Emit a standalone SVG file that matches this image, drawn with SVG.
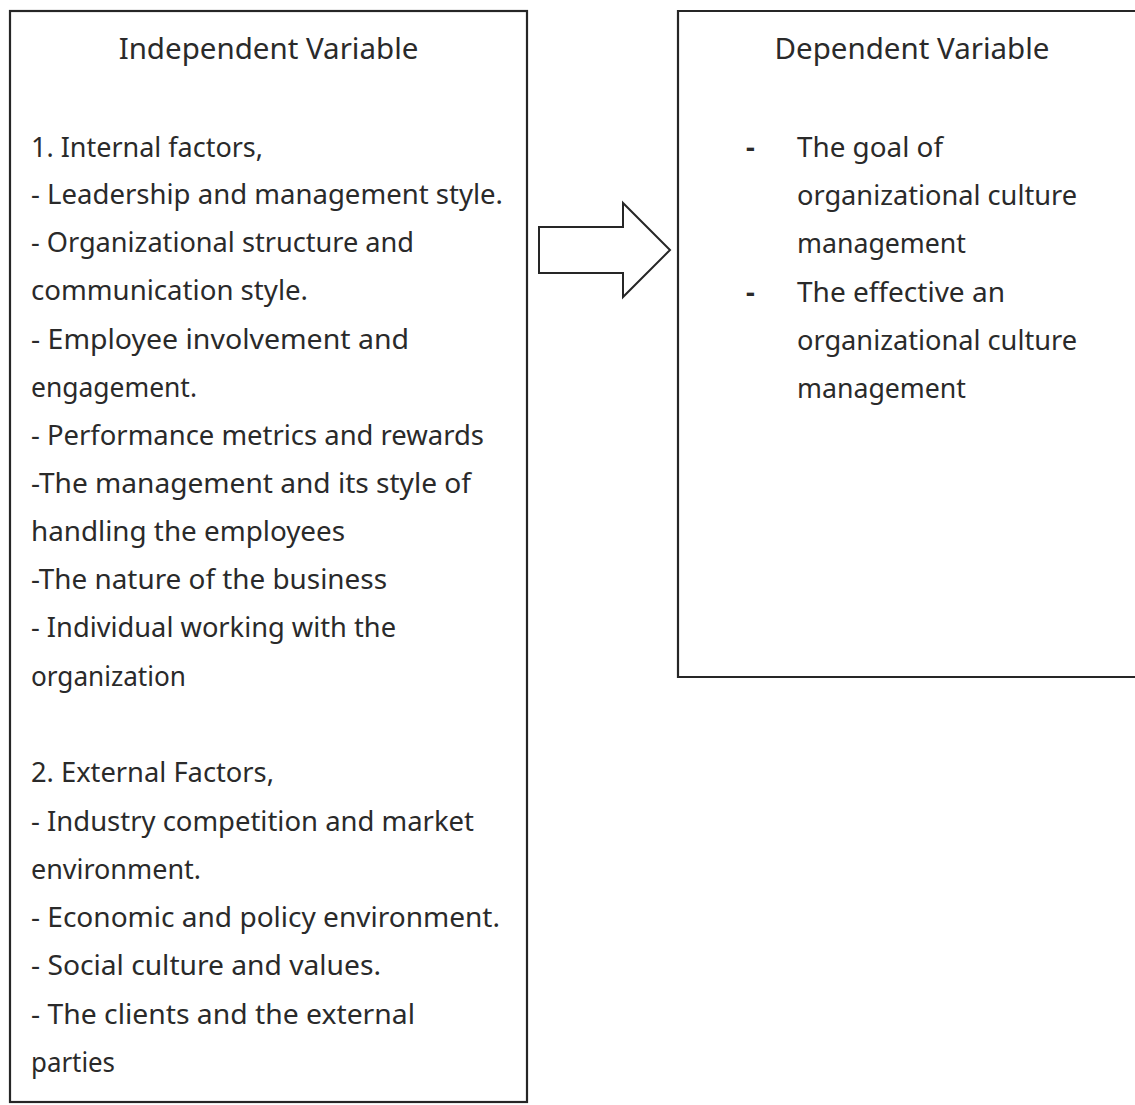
<svg xmlns="http://www.w3.org/2000/svg" width="1135" height="1105" viewBox="0 0 1135 1105">
  <style>
    .box { fill: #ffffff; stroke: #262626; stroke-width: 2.2; }
    .title { font-family: "Noto Sans", "Open Sans", sans-serif; font-size: 29.5px; fill: #2a2a2a; }
    .body { font-family: "Noto Sans", "Open Sans", sans-serif; font-size: 27.5px; fill: #2a2a2a; }
    .dash { font-family: "Noto Sans", "Open Sans", sans-serif; font-size: 27.5px; font-weight: bold; fill: #2a2a2a; }
    .arrow { fill: #ffffff; stroke: #262626; stroke-width: 2; stroke-linejoin: miter; }
  </style>
  <rect x="0" y="0" width="1135" height="1105" fill="#ffffff"/>

  <!-- Independent variable box -->
  <g id="independent">
    <rect class="box" x="10" y="11" width="517" height="1091"/>
    <text class="title" x="268.5" y="59" text-anchor="middle">Independent Variable</text>
    <text class="body" x="31" y="157" textLength="232" lengthAdjust="spacingAndGlyphs">1. Internal factors,</text>
    <text class="body" x="31" y="204" textLength="472" lengthAdjust="spacingAndGlyphs">- Leadership and management style.</text>
    <text class="body" x="31" y="252" textLength="383" lengthAdjust="spacingAndGlyphs">- Organizational structure and</text>
    <text class="body" x="31" y="300" textLength="277" lengthAdjust="spacingAndGlyphs">communication style.</text>
    <text class="body" x="31" y="349" textLength="378" lengthAdjust="spacingAndGlyphs">- Employee involvement and</text>
    <text class="body" x="31" y="397" textLength="166" lengthAdjust="spacingAndGlyphs">engagement.</text>
    <text class="body" x="31" y="445" textLength="453" lengthAdjust="spacingAndGlyphs">- Performance metrics and rewards</text>
    <text class="body" x="31" y="493" textLength="440" lengthAdjust="spacingAndGlyphs">-The management and its style of</text>
    <text class="body" x="31" y="541" textLength="314" lengthAdjust="spacingAndGlyphs">handling the employees</text>
    <text class="body" x="31" y="589" textLength="356" lengthAdjust="spacingAndGlyphs">-The nature of the business</text>
    <text class="body" x="31" y="637" textLength="365" lengthAdjust="spacingAndGlyphs">- Individual working with the</text>
    <text class="body" x="31" y="686" textLength="155" lengthAdjust="spacingAndGlyphs">organization</text>
    <text class="body" x="31" y="782" textLength="243" lengthAdjust="spacingAndGlyphs">2. External Factors,</text>
    <text class="body" x="31" y="831" textLength="443" lengthAdjust="spacingAndGlyphs">- Industry competition and market</text>
    <text class="body" x="31" y="879" textLength="170" lengthAdjust="spacingAndGlyphs">environment.</text>
    <text class="body" x="31" y="927" textLength="469" lengthAdjust="spacingAndGlyphs">- Economic and policy environment.</text>
    <text class="body" x="31" y="975" textLength="350" lengthAdjust="spacingAndGlyphs">- Social culture and values.</text>
    <text class="body" x="31" y="1024" textLength="384" lengthAdjust="spacingAndGlyphs">- The clients and the external</text>
    <text class="body" x="31" y="1072" textLength="84" lengthAdjust="spacingAndGlyphs">parties</text>
  </g>

  <!-- Dependent variable box (runs past the right edge) -->
  <g id="dependent">
    <path class="box" d="M1140,11 H678 V677 H1140"/>
    <text class="title" x="912" y="59" text-anchor="middle">Dependent Variable</text>
    <text class="dash" x="746" y="157">-</text>
    <text class="body" x="797" y="157" textLength="146" lengthAdjust="spacingAndGlyphs">The goal of</text>
    <text class="body" x="797" y="205" textLength="280" lengthAdjust="spacingAndGlyphs">organizational culture</text>
    <text class="body" x="797" y="253" textLength="169" lengthAdjust="spacingAndGlyphs">management</text>
    <text class="dash" x="746" y="302">-</text>
    <text class="body" x="797" y="302" textLength="208" lengthAdjust="spacingAndGlyphs">The effective an</text>
    <text class="body" x="797" y="350" textLength="280" lengthAdjust="spacingAndGlyphs">organizational culture</text>
    <text class="body" x="797" y="398" textLength="169" lengthAdjust="spacingAndGlyphs">management</text>
  </g>

  <!-- Block arrow linking the two boxes -->
  <g id="connectors">
    <polygon class="arrow" points="539,227 623,227 623,203 670,250 623,297 623,273 539,273"/>
  </g>
</svg>
